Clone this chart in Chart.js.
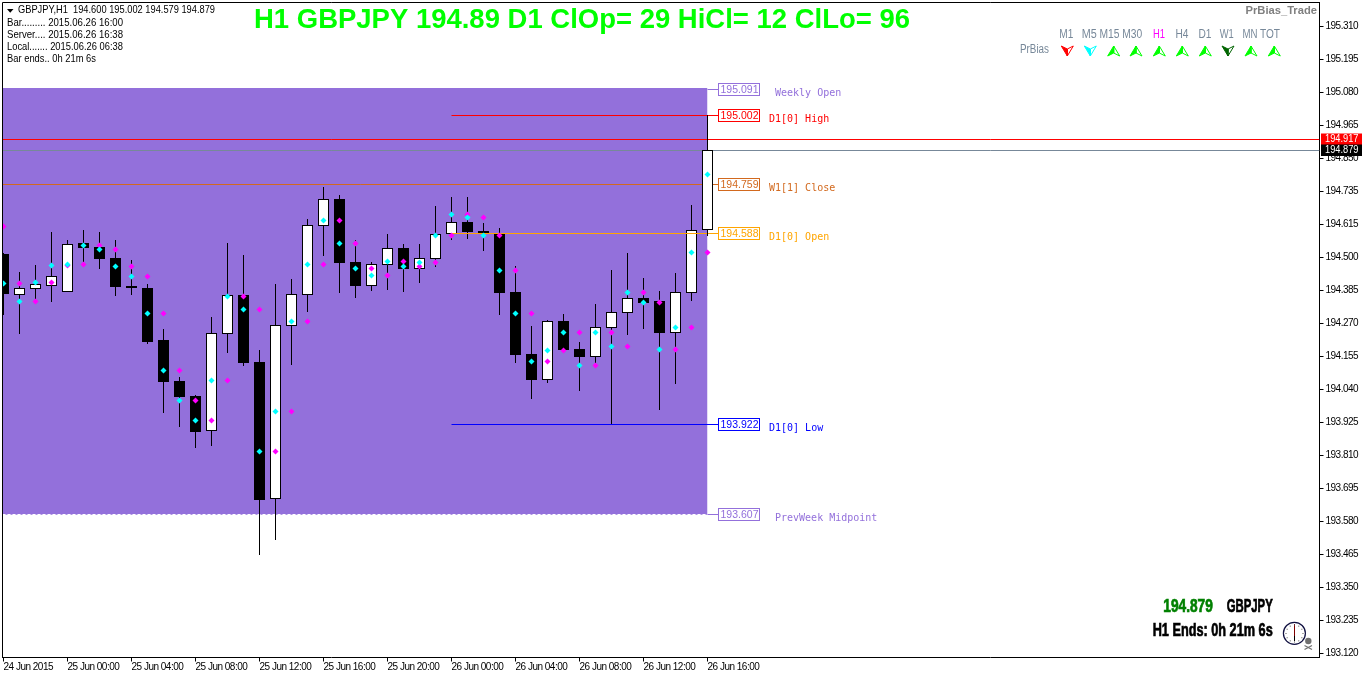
<!DOCTYPE html>
<html>
<head>
<meta charset="utf-8">
<title>GBPJPY H1</title>
<script src="https://cdn.jsdelivr.net/npm/chart.js@4"></script>
<style>html,body{margin:0;padding:0;background:#fff}canvas{display:block}</style>
</head>
<body>
<canvas id="c" width="1362" height="675"></canvas>
<script>
const opens = [194.517,194.375,194.396,194.407,194.386,194.555,194.541,194.503,194.406,194.399,194.217,194.074,194.022,193.900,194.239,194.374,194.140,193.663,194.267,194.375,194.616,194.709,194.490,194.407,194.480,194.538,194.466,194.501,194.588,194.629,194.598,194.590,194.385,194.168,194.079,194.283,194.186,194.159,194.260,194.312,194.364,194.353,194.243,194.382,194.600];
const highs = [194.521,194.455,194.479,194.594,194.566,194.601,194.594,194.566,194.497,194.413,194.256,194.088,194.025,194.297,194.556,194.514,194.182,194.413,194.430,194.640,194.751,194.723,194.566,194.490,194.587,194.552,194.552,194.685,194.716,194.716,194.626,194.608,194.476,194.266,194.287,194.308,194.210,194.343,194.462,194.521,194.434,194.388,194.451,194.689,195.002];
const lows = [194.304,194.238,194.350,194.351,194.386,194.488,194.465,194.371,194.374,194.203,193.962,193.913,193.840,193.847,194.172,194.126,193.466,193.519,194.130,194.315,194.510,194.381,194.364,194.388,194.392,194.385,194.416,194.472,194.566,194.570,194.528,194.304,194.137,194.011,194.067,194.172,194.039,194.137,193.922,194.235,194.256,193.973,194.064,194.353,194.579];
const closes = [194.378,194.398,194.412,194.440,194.551,194.539,194.500,194.402,194.399,194.210,194.071,194.018,193.896,194.241,194.373,194.137,193.658,194.268,194.377,194.618,194.708,194.486,194.406,194.481,194.537,194.465,194.502,194.586,194.628,194.594,194.590,194.381,194.165,194.077,194.282,194.182,194.158,194.262,194.314,194.363,194.346,194.242,194.384,194.600,194.879];
const cyanMarks = [194.416,194.350,194.417,194.478,194.481,194.548,194.534,194.474,194.440,194.310,194.111,194.007,193.937,194.076,194.370,194.324,193.829,193.968,194.282,194.481,194.635,194.555,194.467,194.443,194.492,194.474,194.488,194.583,194.656,194.646,194.583,194.461,194.310,194.143,194.181,194.244,194.129,194.244,194.195,194.384,194.349,194.185,194.262,194.523,194.796];
const magentaMarks = [194.614,194.416,194.350,194.419,194.478,194.481,194.548,194.534,194.474,194.440,194.310,194.111,194.007,193.937,194.076,194.370,194.324,193.829,193.968,194.282,194.481,194.635,194.555,194.467,194.443,194.492,194.474,194.488,194.583,194.656,194.646,194.583,194.461,194.310,194.143,194.181,194.244,194.129,194.244,194.195,194.384,194.349,194.185,194.262,194.523];

const timeTickBars = [0,4,8,12,16,20,24,28,32,36,40,44];
const timeTickLabels = ['24 Jun 2015','25 Jun 00:00','25 Jun 04:00','25 Jun 08:00','25 Jun 12:00','25 Jun 16:00','25 Jun 20:00','26 Jun 00:00','26 Jun 04:00','26 Jun 08:00','26 Jun 12:00','26 Jun 16:00'];
const priceTickValues = [195.3118,195.1966,195.0813,194.9661,194.8509,194.7357,194.6205,194.5052,194.3900,194.2748,194.1596,194.0444,193.9291,193.8139,193.6987,193.5835,193.4683,193.3530,193.2378,193.1226];
const priceTickLabels = ['195.310','195.195','195.080','194.965','194.850','194.735','194.615','194.500','194.385','194.270','194.155','194.040','193.925','193.810','193.695','193.580','193.465','193.350','193.235','193.120'];

const levelPrices = [195.091,195.002,194.759,194.588,193.922,193.607];
const levelNames = ['Weekly Open','D1[0] High','W1[1] Close','D1[0] Open','D1[0] Low','PrevWeek Midpoint'];
const levelColors = ['#9370DB','#FF0000','#D2691E','#FFA500','#0000FF','#9370DB'];
const levelStartBars = [44,28,-0.0625,28,28,44];
const regionTop = 195.096;
const regionBottom = 193.607;
const askPrice = 194.917;
const lastPrice = 194.879;

const timeframes = ['M1','M5','M15','M30','H1','H4','D1','W1','MN','TOT'];
const tfBias = ['down','down','up','up','up','up','up','down','up','up'];
const tfArrowColors = ['#FF0000','#00FFFF','#00FF00','#00FF00','#00FF00','#00FF00','#00FF00','#006400','#00FF00','#00FF00'];
const infoLines = ['Bar......... 2015.06.26 16:00','Server.... 2015.06.26 16:38','Local....... 2015.06.26 06:38','Bar ends.. 0h 21m 6s'];

const XMIN = -0.0625, XMAX = 82.25, BAR_END = 44, LABEL_X = 44.66;
const SANS = '"Liberation Sans", Arial, sans-serif';
const idx = opens.map((_, i) => i);
const last = opens.length - 1;
const bodyPoint = i => ({x: i, y: [opens[i], closes[i]]});
const wickPoint = i => ({x: i, y: [lows[i], highs[i]]});
const bodyStyle = {
  backgroundColor: idx.map(i => closes[i] >= opens[i] ? '#FFFFFF' : '#000000'),
  borderColor: '#000000', borderWidth: 1, borderSkipped: false, inflateAmount: 0, barThickness: 11
};
const wickStyle = {backgroundColor: '#000000', borderWidth: 0, inflateAmount: 0, barThickness: 1};
const hline = (start, end, price, color, extra) => Object.assign({
  type: 'line', data: [{x: start, y: price}, {x: end, y: price}],
  borderColor: color, borderWidth: 1, pointRadius: 0, order: 3, tension: 0
}, extra || {});

const datasets = [
  Object.assign({type:'line', snap:'round', data:[{x:XMIN,y:regionTop},{x:BAR_END,y:regionTop}], fill:{value:regionBottom},
    backgroundColor:'#9370DB', borderWidth:0, pointRadius:0, order:7}),
  hline(XMIN, BAR_END, regionBottom, '#FFFFFF', {borderDash:[3,2], order:6}),
  Object.assign({type:'bar', data: idx.slice(0,last).map(wickPoint), order:5}, wickStyle),
  Object.assign({type:'bar', data: idx.slice(0,last).map(bodyPoint), order:4}, bodyStyle),
  ...levelPrices.map((p,k) => hline(levelStartBars[k], LABEL_X, p, levelColors[k])),
  hline(XMIN, XMAX, askPrice, '#FF0000'),
  hline(XMIN, XMAX, lastPrice, '#778899'),
  Object.assign({type:'bar', data:[wickPoint(last)], order:2}, wickStyle),
  Object.assign({type:'bar', data:[bodyPoint(last)], order:1}, bodyStyle, {backgroundColor:'#FFFFFF'}),
  {type:'line', showLine:false, data: idx.map(i=>({x:i,y:cyanMarks[i]})), pointStyle:'rectRot', pointRadius:3,
    pointBackgroundColor:'#00FFFF', pointBorderWidth:0, order:0},
  {type:'line', showLine:false, data: idx.map(i=>({x:i,y:magentaMarks[i]})), pointStyle:'rectRot', pointRadius:3,
    pointBackgroundColor:'#FF00FF', pointBorderWidth:0, order:0}
];

const noPad = a => { a.paddingTop=0; a.paddingBottom=0; a.paddingLeft=0; a.paddingRight=0; };

const pixelSnap = {
  id:'pixelSnap',
  beforeDraw(chart){ chart.ctx.letterSpacing='-0.5px'; },
  beforeDatasetsDraw(chart){
    chart.data.datasets.forEach((ds,i)=>{
      const meta = chart.getDatasetMeta(i);
      meta.data.forEach(el=>{
        if(meta.type==='bar'){ el.y=Math.round(el.y); el.base=Math.round(el.base); }
        else if(ds.snap==='round'){ el.y=Math.round(el.y); }
        else { el.y=Math.floor(el.y)+0.5; }
      });
    });
  }
};

function txt(ctx,s,x,y,font,color,align,maxW,heavy){
  ctx.font=font; ctx.fillStyle=color; ctx.textAlign=align||'left'; ctx.textBaseline='middle';
  if(maxW) ctx.fillText(s,x,y,maxW); else ctx.fillText(s,x,y);
  if(heavy){ ctx.strokeStyle=color; ctx.lineWidth=heavy; if(maxW) ctx.strokeText(s,x,y,maxW); else ctx.strokeText(s,x,y); }
}
function arrow(ctx,x,y,up,color){
  const s = up ? 1 : -1;
  const P=(dx,dy)=>[x+dx, y+s*dy];
  const tip=P(0,-5), l=P(-6,5), r=P(6,5), n=P(0,2);
  const poly=(pts,fill,stroke)=>{ctx.beginPath();pts.forEach((p,i)=>i?ctx.lineTo(p[0],p[1]):ctx.moveTo(p[0],p[1]));ctx.closePath();
    if(fill){ctx.fillStyle=fill;ctx.fill();} if(stroke){ctx.strokeStyle=stroke;ctx.lineWidth=1;ctx.stroke();}};
  poly([tip,r,n],'#FFFFFF',color);
  poly([tip,l,n],color,color);
  ctx.beginPath();ctx.moveTo(tip[0],tip[1]);ctx.lineTo(n[0],n[1]);ctx.strokeStyle=color;ctx.stroke();
}
const overlay = {
  id:'overlay',
  afterDraw(chart){
    const ctx=chart.ctx, y=chart.scales.y;
    ctx.save();
    ctx.letterSpacing='0px';
    ctx.strokeStyle='#000'; ctx.lineWidth=1;
    ctx.beginPath(); ctx.moveTo(2.5,657.5); ctx.lineTo(2.5,2.5); ctx.lineTo(1319.5,2.5); ctx.stroke();

    // level boxes and names
    levelPrices.forEach((p,k)=>{
      const cy=Math.floor(y.getPixelForValue(p))+0.5, c=levelColors[k];
      ctx.fillStyle='#fff'; ctx.fillRect(718.5,cy-6,41,12);
      ctx.strokeStyle=c; ctx.lineWidth=1; ctx.strokeRect(718.5,cy-6,41,12);
      txt(ctx,p.toFixed(3),739.5,cy+0.5,'10.5px '+SANS,c,'center');
      txt(ctx,levelNames[k],(k===0||k===5)?775:769,cy+3.5,'10px "DejaVu Sans Mono", monospace',c);
    });

    // price tags on the axis
    const tag=(p,bg)=>{const cy=Math.floor(y.getPixelForValue(p))+0.5;
      ctx.fillStyle=bg; ctx.fillRect(1321,cy-6,41,11.5);
      txt(ctx,p.toFixed(3),1325,cy,'10px '+SANS,'#fff','left',33.5);};
    tag(askPrice,'#FF0000'); tag(lastPrice,'#000000');

    // header
    txt(ctx,'H1 GBPJPY 194.89 D1 ClOp= 29 HiCl= 12 ClLo= 96',254,20,'bold 27.5px '+SANS,'#00FF00','left',656);
    ctx.fillStyle='#000'; ctx.beginPath(); ctx.moveTo(7,9); ctx.lineTo(13.5,9); ctx.lineTo(10.2,12.8); ctx.closePath(); ctx.fill();
    txt(ctx,'GBPJPY,H1  194.600 195.002 194.579 194.879',18,10.5,'10.5px '+SANS,'#000','left',197);
    const infoWidths=[116,116,116,89];
    infoLines.forEach((s,k)=>txt(ctx,s,7,23.5+k*12,'10.5px '+SANS,'#000','left',infoWidths[k]));

    // PrBias panel
    txt(ctx,'PrBias_Trade',1245.5,11,'bold 11.5px '+SANS,'#808080','left',71.5);
    txt(ctx,'PrBias',1020,50,'12px '+SANS,'#778899','left',29);
    const tfX=[1066.3,1089.3,1109.5,1132.3,1159,1182,1205,1226.7,1250,1270];
    const tfW=[14,15,20,20,12,13,13,14,15,20];
    const arX=[1067.3,1090.3,1113.7,1136,1159.3,1182.3,1205.3,1228,1251,1274.3];
    timeframes.forEach((t,k)=>{
      txt(ctx,t,tfX[k],35,'12px '+SANS,t==='H1'?'#FF00FF':'#778899','center',tfW[k]);
      arrow(ctx,arX[k],51,tfBias[k]==='up',tfArrowColors[k]);
    });

    // bottom-right status
    txt(ctx,lastPrice.toFixed(3),1163.3,607,'bold 17.5px '+SANS,'#008000','left',49.5,0.7);
    txt(ctx,'GBPJPY',1226.7,607,'bold 17.5px '+SANS,'#000','left',46,0.7);
    txt(ctx,'H1 Ends: 0h 21m 6s',1152.7,631,'bold 17.5px '+SANS,'#000','left',120,0.7);

    // clock
    ctx.strokeStyle='#101040'; ctx.lineWidth=1.2;
    ctx.beginPath(); ctx.arc(1294.4,633.3,11,0,Math.PI*2); ctx.stroke();
    ctx.strokeStyle='#800000'; ctx.lineWidth=1;
    ctx.beginPath(); ctx.moveTo(1294.5,624); ctx.lineTo(1294.5,641); ctx.stroke();
    ctx.strokeStyle='#000'; ctx.beginPath(); ctx.moveTo(1294.5,636); ctx.lineTo(1294.5,641); ctx.stroke();
    ctx.fillStyle='#555';
    for(let a=0;a<12;a++){const t=a*Math.PI/6; ctx.fillRect(1294+Math.cos(t)*8.5,633+Math.sin(t)*8.5,1,1);}
    // skull
    ctx.fillStyle='#707070'; ctx.beginPath(); ctx.arc(1308.3,641,3.2,0,Math.PI*2); ctx.fill();
    ctx.strokeStyle='#707070'; ctx.lineWidth=1.2;
    ctx.beginPath(); ctx.moveTo(1304.5,645.5); ctx.lineTo(1312,649.5); ctx.moveTo(1312,645.5); ctx.lineTo(1304.5,649.5); ctx.stroke();
    ctx.restore();
  }
};

new Chart(document.getElementById('c'),{
  type:'bar',
  data:{datasets},
  plugins:[pixelSnap,overlay],
  options:{
    responsive:false, animation:false, events:[],
    layout:{autoPadding:false,padding:{top:2.5,left:2.5,right:0,bottom:0}},
    datasets:{bar:{grouped:false}},
    plugins:{legend:{display:false},tooltip:{enabled:false},title:{display:false}},
    scales:{
      x:{
        type:'linear', bounds:'data', offset:false, position:'bottom', min:XMIN, max:XMAX,
        grid:{offset:false,drawOnChartArea:false,drawTicks:true,tickLength:4,tickColor:'#000',tickWidth:1},
        border:{display:true,color:'#000',width:1},
        afterBuildTicks(a){a.ticks=timeTickBars.map(value=>({value}));},
        afterFit(a){a.height=17.5; noPad(a);},
        ticks:{align:'start',autoSkip:false,maxRotation:0,minRotation:0,padding:0,color:'#000',
          font:{family:SANS,size:10},
          callback:(v,i)=>timeTickLabels[i]}
      },
      y:{
        type:'linear', bounds:'data', position:'right', min:193.1086, max:195.3956,
        grid:{drawOnChartArea:false,drawTicks:true,tickLength:4,tickColor:'#000',tickWidth:1},
        border:{display:true,color:'#000',width:1},
        afterBuildTicks(a){a.ticks=priceTickValues.map(value=>({value}));},
        afterFit(a){a.width=42.5; noPad(a);},
        ticks:{autoSkip:false,padding:2,color:'#000',font:{family:SANS,size:10},
          callback:(v,i)=>priceTickLabels[i]}
      }
    }
  }
});
</script>
</body>
</html>
